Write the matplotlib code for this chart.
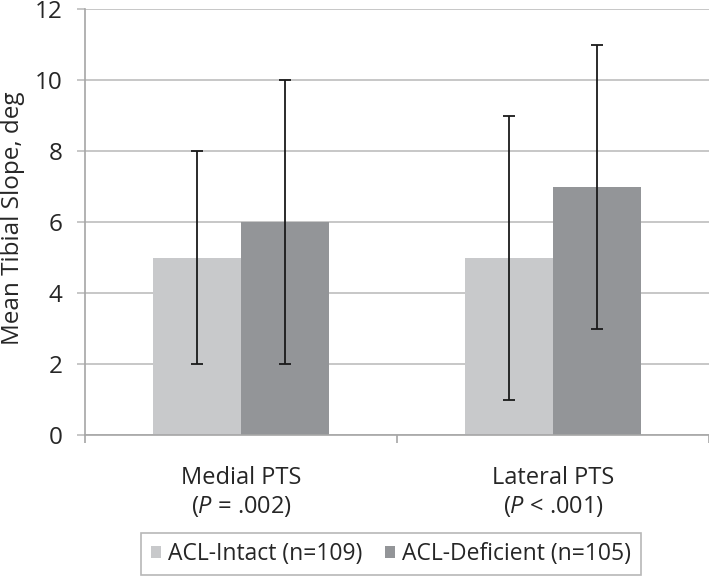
import numpy as np
from matplotlib import pyplot as plt

plt.rcParams['font.family'] = ['Open Sans', 'DejaVu Sans']
plt.rcParams['mathtext.fontset'] = 'custom'
plt.rcParams['mathtext.rm'] = 'Open Sans'
plt.rcParams['mathtext.it'] = 'Open Sans:italic'

# data
categories = ['Medial PTS\n($\\it{P}$ = .002)', 'Lateral PTS\n($\\it{P}$ < .001)']
series = ['ACL-Intact (n=109)', 'ACL-Deficient (n=105)']
means = [[5, 5], [6, 7]]
lows = [[2, 1], [2, 3]]
highs = [[8, 9], [10, 11]]
colors = ['#c8c9cb', '#939598']

fig = plt.figure(figsize=(7.09, 5.78), dpi=100)
ax = fig.add_axes([85 / 709, 1 - 435 / 578, 624 / 709, 426 / 578])

x = np.arange(len(categories))
w = 0.282
for i, name in enumerate(series):
    m = np.array(means[i])
    err = [m - np.array(lows[i]), np.array(highs[i]) - m]
    pos = x + (i - 0.5) * w
    ax.bar(pos, m, width=w, color=colors[i], label=name, zorder=2)
    ax.errorbar(pos, m, yerr=err, fmt='none', ecolor='#1a1a1a',
                elinewidth=1.3, capsize=4, capthick=1.3, zorder=3)

ax.set_xlim(-0.5, 1.5)
ax.set_ylim(0, 12)
ax.set_yticks(range(0, 13, 2))
ax.yaxis.grid(True, color='#bebebe', linewidth=1.2, zorder=0)
ax.set_axisbelow(True)

for s in ['top', 'right']:
    ax.spines[s].set_visible(False)
ax.spines['left'].set_color('#a6a6a6')
ax.spines['bottom'].set_color('#a6a6a6')
ax.spines['left'].set_linewidth(1.2)
ax.spines['bottom'].set_linewidth(1.2)

ax.tick_params(axis='y', direction='out', length=6, width=1.2, color='#bebebe',
               labelsize=17.5, pad=10, labelcolor='#262626')
ax.set_xticks(x)
ax.set_xticklabels(categories)
ax.set_xticks([-0.5, 0.5, 1.5], minor=True)
ax.tick_params(axis='x', which='major', length=0, labelsize=17, pad=22,
               labelcolor='#262626')
ax.tick_params(axis='x', which='minor', direction='out', length=6, width=1.2,
               color='#a6a6a6')
for lab in ax.get_xticklabels():
    lab.set_linespacing(1.25)

fig.text(13 / 709, 1 - 218 / 578, 'Mean Tibial Slope, deg', rotation=90,
         ha='center', va='center', fontsize=17.5, color='#262626')

leg = fig.legend(loc='center', bbox_to_anchor=(391 / 709, 1 - 554 / 578), ncol=2,
                 fontsize=16.5, frameon=True, fancybox=False, handlelength=0.45,
                 handleheight=0.45, handletextpad=0.3, columnspacing=1.0,
                 borderpad=0.4)
leg.get_frame().set_edgecolor('#a6a6a6')
leg.get_frame().set_linewidth(1.2)
for t in leg.get_texts():
    t.set_color('#262626')

fig.savefig('out.png', dpi=100)
